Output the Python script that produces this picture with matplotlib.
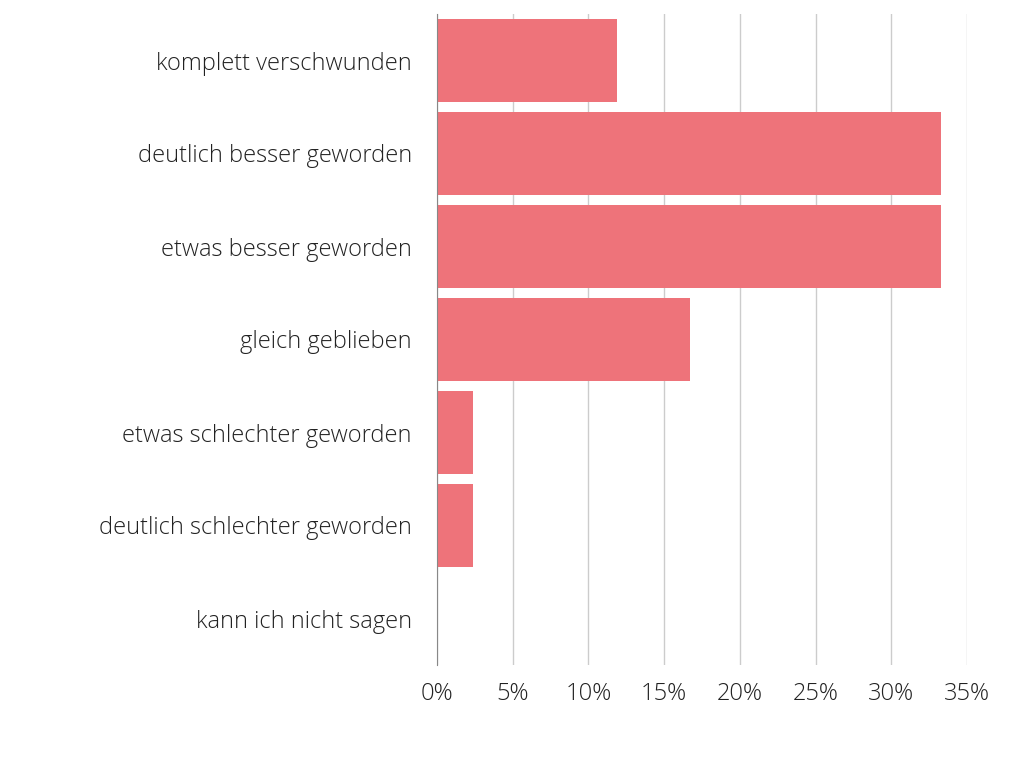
import matplotlib.pyplot as plt
from matplotlib.ticker import FuncFormatter

categories = ['komplett verschwunden', 'deutlich besser geworden', 'etwas besser geworden',
              'gleich geblieben', 'etwas schlechter geworden', 'deutlich schlechter geworden',
              'kann ich nicht sagen']
values = [11.9, 33.3, 33.3, 16.7, 2.4, 2.4, 0.0]
ticks = [0, 5, 10, 15, 20, 25, 30, 35]

plt.rcParams['font.family'] = 'Open Sans'
plt.rcParams['font.weight'] = 'light'

fig = plt.figure(figsize=(10.24, 7.68), dpi=100)
ax = fig.add_axes([437 / 1024, 1 - 665 / 768, (967 - 437) / 1024, (665 - 14) / 768])

pos = list(range(len(categories)))
ax.barh(pos, values, height=0.9, color='#ee737a', zorder=3)
ax.set_yticks(pos)
ax.set_yticklabels(categories, fontsize=17, color='#222222')
ax.set_ylim(len(categories) - 0.5, -0.5)
ax.set_xlim(0, 35)
ax.set_xticks(ticks)
ax.xaxis.set_major_formatter(FuncFormatter(lambda v, p: f'{v:.0f}%'))
ax.tick_params(axis='x', labelsize=17, colors='#222222', length=0, pad=12)
ax.tick_params(axis='y', length=0, pad=18)
ax.grid(axis='x', color='#cccccc', linewidth=1, zorder=0)
for s in ['top', 'right', 'bottom']:
    ax.spines[s].set_visible(False)
ax.spines['left'].set_color('#888888')
ax.spines['left'].set_zorder(4)

fig.savefig('out.png', dpi=100)
